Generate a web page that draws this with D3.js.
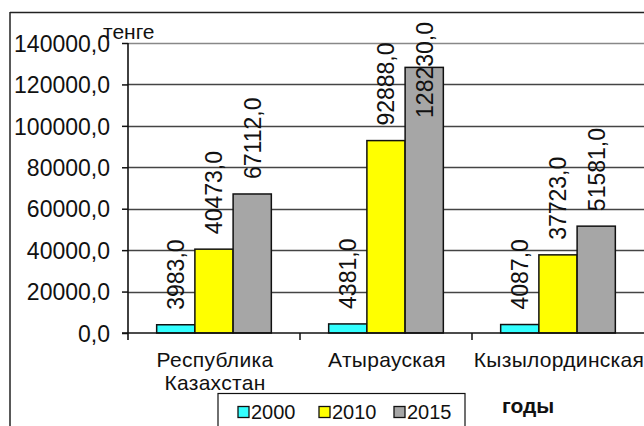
<!DOCTYPE html>
<html>
<head>
<meta charset="utf-8">
<script src="https://cdn.jsdelivr.net/npm/d3@7"></script>
<style>
  html, body { margin: 0; padding: 0; background: #fff; }
  svg { display: block; }
  text { font-family: "Liberation Sans", Arial, sans-serif; fill: #111; }
</style>
</head>
<body>
<svg id="chart" width="644" height="426"></svg>
<script>
const categories = [["Республика", "Казахстан"], ["Атырауская"], ["Кызылординская"]];
const seriesNames = ["2000", "2010", "2015"];
const values2000 = [3983.0, 4381.0, 4087.0];
const values2010 = [40473.0, 92888.0, 37723.0];
const values2015 = [67112.0, 128230.0, 51581.0];
const yTicks = [0, 20000, 40000, 60000, 80000, 100000, 120000, 140000];
const colors = ["#33ffff", "#ffff00", "#a6a6a6"];

const series = [values2000, values2010, values2015];
const svg = d3.select("#chart");
const W = 644, H = 426;

// outer frame
svg.append("line").attr("x1", 10).attr("x2", W).attr("y1", 12.5).attr("y2", 12.5)
  .attr("stroke", "#222").attr("stroke-width", 1.5);
svg.append("line").attr("x1", 10).attr("x2", 10).attr("y1", 12).attr("y2", H)
  .attr("stroke", "#222").attr("stroke-width", 1.5);

const x0 = 128, x1 = 644, yBase = 333, yTop = 43;
const y = d3.scaleLinear().domain([0, 140000]).range([yBase, yTop]);
const xCat = d3.scaleBand().domain(d3.range(categories.length)).range([x0, x1]).paddingInner(0).paddingOuter(0);
const xSer = d3.scaleBand().domain(d3.range(seriesNames.length)).range([0, xCat.bandwidth()]).paddingInner(0).paddingOuter(0.75);

// gridlines
svg.append("g").selectAll("line").data(yTicks.filter(d => d > 0)).join("line")
  .attr("x1", x0).attr("x2", x1)
  .attr("y1", d => Math.round(y(d)) + 0.5).attr("y2", d => Math.round(y(d)) + 0.5)
  .attr("stroke", d => d === 140000 ? "#888" : "#444").attr("stroke-width", 1.4);

// y axis
const yAxis = d3.axisLeft(y).tickValues(yTicks).tickSize(6).tickPadding(12)
  .tickFormat(d => d3.format(".1f")(d).replace(".", ","));
const gy = svg.append("g").attr("transform", `translate(${x0},0)`).call(yAxis);
gy.select(".domain").remove();
gy.selectAll(".tick line").attr("stroke", "#111").attr("stroke-width", 1.5);
gy.selectAll(".tick text").attr("font-size", 23).attr("fill", "#111")
  .attr("font-family", "'Liberation Sans', Arial, sans-serif").attr("dy", "0.36em");
svg.append("line").attr("x1", x0).attr("x2", x0).attr("y1", yTop).attr("y2", yBase + 7)
  .attr("stroke", "#111").attr("stroke-width", 1.6);

// bars
const groups = svg.append("g").selectAll("g").data(categories).join("g")
  .attr("transform", (d, i) => `translate(${xCat(i)},0)`);
groups.each(function(c, ci) {
  const g = d3.select(this);
  series.forEach((vals, si) => {
    const v = vals[ci];
    g.append("rect")
      .attr("x", xSer(si)).attr("width", xSer.bandwidth())
      .attr("y", y(v)).attr("height", yBase - y(v))
      .attr("fill", colors[si]).attr("stroke", "#111").attr("stroke-width", 1.5);
  });
});

// x axis
svg.append("line").attr("x1", x0 - 6).attr("x2", x1).attr("y1", yBase).attr("y2", yBase)
  .attr("stroke", "#111").attr("stroke-width", 1.6);
svg.append("g").selectAll("line").data(d3.range(1, categories.length)).join("line")
  .attr("x1", i => xCat(i)).attr("x2", i => xCat(i))
  .attr("y1", yBase).attr("y2", yBase + 7).attr("stroke", "#111").attr("stroke-width", 1.5);

// category labels
categories.forEach((lines, ci) => {
  const cx = xCat(ci) + xCat.bandwidth() / 2 + 1;
  const t = svg.append("text").attr("text-anchor", "middle").attr("font-size", 21)
    .attr("letter-spacing", 0.3).attr("x", cx).attr("y", 367);
  lines.forEach((ln, li) => {
    t.append("tspan").attr("x", cx).attr("dy", li === 0 ? 0 : 23).text(ln);
  });
});

// data labels
categories.forEach((c, ci) => {
  series.forEach((vals, si) => {
    const v = vals[ci];
    const cx = xCat(ci) + xSer(si) + xSer.bandwidth() / 2;
    const t = svg.append("text").attr("font-size", 23).attr("text-anchor", "start")
      .attr("dy", "0.36em").text(d3.format(".1f")(v).replace(".", ","));
    const len = t.node().getComputedTextLength();
    let start = y(v) - 15;
    if (start - len < 22) start = 22 + len;
    t.attr("transform", `translate(${cx},${start}) rotate(-90)`);
  });
});

// unit label
svg.append("text").attr("x", 103).attr("y", 39).attr("font-size", 21).text("тенге");

// legend
const lg = svg.append("g");
lg.append("rect").attr("x", 218).attr("y", 393.5).attr("width", 247).attr("height", 40)
  .attr("fill", "#fff").attr("stroke", "#111").attr("stroke-width", 1.2);
const legX = [238, 319, 394];
seriesNames.forEach((n, i) => {
  lg.append("rect").attr("x", legX[i]).attr("y", 406.5).attr("width", 11).attr("height", 11)
    .attr("fill", colors[i]).attr("stroke", "#111").attr("stroke-width", 1.3);
  lg.append("text").attr("x", legX[i] + 13).attr("y", 418.5).attr("font-size", 20).text(n);
});

// axis title
svg.append("text").attr("x", 502).attr("y", 413).attr("font-size", 21).attr("font-weight", "bold").text("годы");
</script>
</body>
</html>
